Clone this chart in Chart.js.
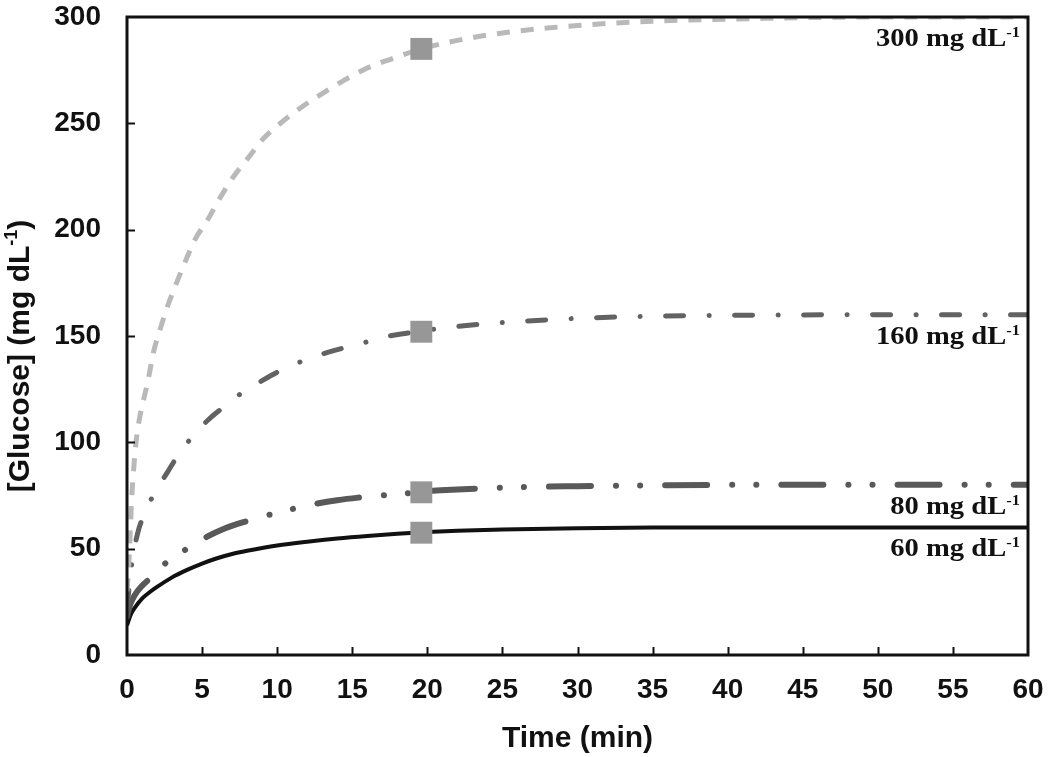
<!DOCTYPE html>
<html>
<head>
<meta charset="utf-8">
<script src="https://cdn.jsdelivr.net/npm/chart.js@4.4.1/dist/chart.umd.min.js"></script>
<style>
  html, body { margin: 0; padding: 0; background: #fff; }
  #wrap { width: 1050px; height: 757px; position: relative; }
</style>
</head>
<body>
<div id="wrap"><canvas id="c" width="1050" height="757"></canvas></div>
<script>
// ---- data ----
const t300 = [0, 0.1, 0.2, 0.3, 0.45, 0.6, 0.8, 1.07, 1.4, 1.75, 2.2, 2.7, 3.3, 4, 4.5, 5.4, 6.2, 7.1, 8.1, 9.1, 10.3, 11.5, 13, 14.4, 16, 17.5, 19.6, 22, 25, 30, 35, 40, 50, 60];
const v300 = [30, 40, 55, 72, 88, 100, 110, 119, 129, 142, 153, 164, 175, 187, 195, 205, 215, 225, 234, 243, 250.5, 257, 264, 270, 276, 280, 285, 289, 292.5, 296, 298, 299, 300, 300];

const t160 = [0, 0.3, 0.7, 1.2, 1.9, 2.7, 3.5, 4.4, 5.4, 6.6, 7.7, 9, 10.3, 11.6, 13, 14.4, 15.7, 17.1, 18.7, 20, 22, 25, 30, 35, 40, 50, 60];
const v160 = [22, 42, 57, 67, 77, 86, 95, 103, 110.5, 117.5, 123.5, 129, 134, 138, 141.5, 144.3, 146.7, 149.5, 151.4, 152.8, 154.5, 156.3, 158.3, 159.3, 159.7, 160, 160];

const t80 = [0, 0.2, 0.5, 1, 1.7, 2.7, 4, 5.3, 6.5, 8, 9.5, 11, 12.5, 14, 15.4, 17, 18.6, 20, 22, 25, 30, 35, 40, 50, 60];
const v80 = [18, 23.5, 28, 32.5, 37, 44, 50, 55.5, 59.5, 63, 66, 68.6, 71, 72.8, 74, 75, 76, 77, 77.8, 78.7, 79.4, 79.8, 80, 80, 80];

const t60 = [0, 0.25, 0.5, 1, 1.5, 2, 3, 4, 5, 6, 7, 8, 10, 12, 14, 16, 18, 20, 22, 25, 30, 35, 40, 50, 60];
const v60 = [14, 19, 22, 26.5, 29.5, 32, 36.5, 40, 43, 45.5, 47.5, 49, 51.5, 53.3, 54.8, 56, 57, 57.8, 58.4, 59, 59.6, 59.9, 60, 60, 60];

const markerTimes = [19.6, 19.6, 19.6, 19.6];
const markerValues = [285, 152, 76.5, 57.5];

const curveLabels = ["300 mg dL", "160 mg dL", "80 mg dL", "60 mg dL"];
const curveLevels = [300, 160, 80, 60];

const xTicks = [0, 5, 10, 15, 20, 25, 30, 35, 40, 45, 50, 55, 60];
const yTicks = [0, 50, 100, 150, 200, 250, 300];

const yTitleMain = "[Glucose] (mg dL";
const yTitleSup = "-1";
const yTitleEnd = ")";

// ---- helpers ----
const pts = (ts, vs) => ts.map((t, i) => ({ x: t, y: vs[i] }));
const curve = (ts, vs, color, width, dash, cap) => ({
  type: 'line',
  data: pts(ts, vs),
  borderColor: color,
  borderWidth: width,
  borderDash: dash,
  borderCapStyle: cap,
  pointRadius: 0,
  cubicInterpolationMode: 'monotone',
  fill: false,
  order: 1
});
const SANS = '"Liberation Sans", Arial, sans-serif';
const SERIF = '"Liberation Serif", "Times New Roman", serif';

const frameAndTicks = {
  id: 'frameAndTicks',
  afterDatasetsDraw(chart) {
    const { ctx, chartArea: a, scales } = chart;
    ctx.save();
    ctx.strokeStyle = '#111';
    ctx.lineWidth = 2;
    ctx.beginPath();
    xTicks.forEach(v => {
      if (v === 0 || v === 60) return;
      const px = Math.round(scales.x.getPixelForValue(v)) + 0.5;
      ctx.moveTo(px, a.bottom);
      ctx.lineTo(px, a.bottom - 8);
    });
    yTicks.forEach(v => {
      if (v === 0 || v === 300) return;
      const py = Math.round(scales.y.getPixelForValue(v)) + 0.5;
      ctx.moveTo(a.left, py);
      ctx.lineTo(a.left + 8, py);
    });
    ctx.stroke();
    ctx.lineWidth = 3;
    ctx.strokeRect(a.left, a.top, a.right - a.left, a.bottom - a.top);
    ctx.restore();

    // curve labels (slightly wide serif, right-aligned inside the frame)
    const sx = 1.1;
    curveLabels.forEach((txt, i) => {
      const base = scales.y.getPixelForValue(curveLevels[i]) + 29;
      const right = a.right - 8;
      ctx.save();
      ctx.fillStyle = '#111';
      ctx.textBaseline = 'alphabetic';
      ctx.translate(right, base);
      ctx.scale(sx, 1);
      ctx.font = 'bold 15px ' + SERIF;
      const supW = ctx.measureText('-1').width;
      ctx.textAlign = 'right';
      ctx.fillText('-1', 0, -9);
      ctx.font = 'bold 26px ' + SERIF;
      ctx.fillText(txt, -supW, 0);
      ctx.restore();
    });

    // y axis title
    ctx.save();
    ctx.fillStyle = '#111';
    ctx.translate(21, (a.top + a.bottom) / 2 + 20);
    ctx.rotate(-Math.PI / 2);
    ctx.textBaseline = 'middle';
    ctx.textAlign = 'left';
    const mainFont = 'bold 30px ' + SANS;
    const supFont = 'bold 18px ' + SANS;
    ctx.font = mainFont;
    const w1 = ctx.measureText(yTitleMain).width;
    const w3 = ctx.measureText(yTitleEnd).width;
    ctx.font = supFont;
    const w2 = ctx.measureText(yTitleSup).width;
    const total = w1 + w2 + w3;
    let x = -total / 2;
    ctx.font = mainFont;
    ctx.fillText(yTitleMain, x, 0);
    x += w1;
    ctx.font = supFont;
    ctx.fillText(yTitleSup, x, -9);
    x += w2;
    ctx.font = mainFont;
    ctx.fillText(yTitleEnd, x, 0);
    ctx.restore();
  }
};

const zeroPad = s => { s.paddingTop = 0; s.paddingBottom = 0; s.paddingLeft = 0; s.paddingRight = 0; };

new Chart(document.getElementById('c'), {
  data: {
    datasets: [
      {
        type: 'scatter',
        data: pts(markerTimes, markerValues),
        pointStyle: 'rect',
        pointRadius: 15.5,
        pointBackgroundColor: '#979797',
        pointBorderWidth: 0,
        order: 0
      },
      curve(t300, v300, '#b9b9b9', 5, [13, 11], 'butt'),
      curve(t160, v160, '#626262', 5, [18, 25.5, 0.1, 25.4], 'round'),
      curve(t80, v80, '#595959', 6, [42, 25, 0.1, 24, 0.1, 25], 'round'),
      curve(t60, v60, '#111111', 4, [], 'butt')
    ]
  },
  plugins: [frameAndTicks],
  options: {
    responsive: false,
    animation: false,
    layout: { padding: { top: 17, right: 22, left: 0, bottom: 0 } },
    plugins: { legend: { display: false }, tooltip: { enabled: false } },
    scales: {
      x: {
        type: 'linear',
        min: 0, max: 60,
        afterBuildTicks: s => { s.ticks = xTicks.map(v => ({ value: v })); },
        afterFit: s => { s.height = 102; zeroPad(s); },
        grid: { display: false, drawTicks: false },
        border: { display: false },
        ticks: { color: '#111', padding: 18, font: { family: SANS, size: 28, weight: 'bold' } },
        title: { display: true, text: 'Time (min)', color: '#111', padding: { top: 4, bottom: 0 }, font: { family: SANS, size: 30, weight: 'bold' } }
      },
      y: {
        type: 'linear',
        min: 0, max: 300,
        afterBuildTicks: s => { s.ticks = yTicks.map(v => ({ value: v })); },
        afterFit: s => { s.width = 127; zeroPad(s); },
        grid: { display: false, drawTicks: false },
        border: { display: false },
        ticks: { color: '#111', padding: 26, font: { family: SANS, size: 28, weight: 'bold' } },
        title: { display: false }
      }
    }
  }
});
</script>
</body>
</html>
